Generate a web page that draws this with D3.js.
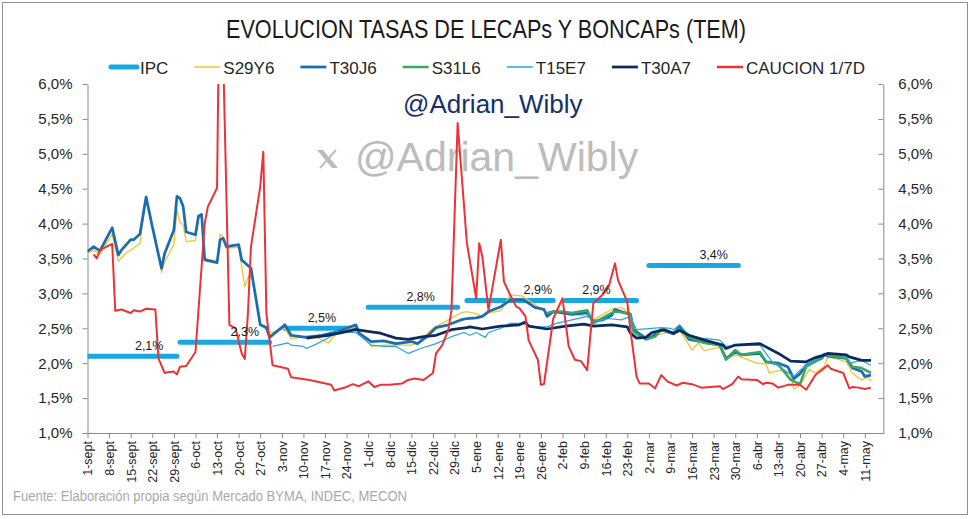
<!DOCTYPE html>
<html><head><meta charset="utf-8">
<script src="https://cdn.jsdelivr.net/npm/d3@7"></script>
<style>body{margin:0;background:#fff}</style>
</head><body><svg id="c" width="971" height="519"></svg>
<script>
const chartTitle = "EVOLUCION TASAS DE LECAPs Y BONCAPs (TEM)";
const footerText = "Fuente: Elaboración propia según Mercado BYMA, INDEC, MECON";
const handle = "@Adrian_Wibly";
const monthLabels = ["ene","feb","mar","abr","may","jun","jul","ago","sept","oct","nov","dic"];
const yTicks = [1,1.5,2,2.5,3,3.5,4,4.5,5,5.5,6];
const seriesNames = ["IPC","S29Y6","T30J6","S31L6","T15E7","T30A7","CAUCION 1/7D"];

// IPC monthly segments: [start, end, value, labelled point]
const ipc = [["09-01","09-30",2.1,"09-21"],["10-01","10-30",2.3,"10-22"],["11-04","11-27",2.5,"11-16"],
  ["12-01","12-30",2.8,"12-18"],["01-02","01-30",2.9,"01-25"],["02-03","02-26",2.9,"02-13"],["03-02","03-31",3.4,"03-23"]];

const s29y6 = [["09-01",3.58],["09-03",3.62],["09-05",3.56],["09-09",3.85],["09-11",3.46],["09-13",3.56],["09-16",3.65],["09-18",3.72],["09-20",4.40],["09-22",3.95],["09-25",3.30],["09-26",3.45],["09-29",3.70],["09-30",4.20],["10-01",4.02],["10-02",3.98],["10-03",3.74],["10-06",3.76],["10-07",4.08],["10-08",4.10],["10-09",3.50],["10-13",3.46],["10-14",3.85],["10-15",3.80],["10-16",3.65],["10-20",3.66],["10-22",3.10],["10-24",3.33],["10-27",2.55],["10-29",2.48],["10-30",2.43],["11-04",2.50],["11-06",2.35],["11-10",2.38],["11-13",2.40],["11-18",2.29],["11-21",2.44],["11-27",2.52],["12-02",2.24],["12-06",2.26],["12-10",2.26],["12-15",2.26],["12-17",2.29],["12-22",2.50],["12-27",2.62],["12-31",2.72],["01-02",2.74],["01-05",2.71],["01-07",2.67],["01-09",2.72],["01-13",2.75],["01-16",2.98],["01-20",2.96],["01-24",2.84],["01-28",2.72],["01-30",2.73],["02-05",2.71],["02-10",2.67],["02-12",2.62],["02-15",2.70],["02-18",2.77],["02-21",2.80],["02-24",2.72],["02-26",2.40],["03-01",2.36],["03-04",2.40],["03-09",2.45],["03-12",2.47],["03-16",2.19],["03-18",2.29],["03-20",2.18],["03-25",2.23],["03-27",2.05],["03-30",2.12],["04-06",2.00],["04-09",1.99],["04-10",1.86],["04-14",1.90],["04-17",1.84],["04-18",1.63],["04-20",1.68],["04-23",1.91],["04-25",1.86],["04-28",1.96],["04-29",2.10],["05-05",2.02],["05-07",1.86],["05-10",1.76],["05-12",1.80],["05-13",1.74]];

const t30j6 = [["09-01",3.60],["09-03",3.67],["09-05",3.61],["09-09",3.94],["09-11",3.55],["09-12",3.62],["09-15",3.77],["09-16",3.77],["09-18",3.85],["09-20",4.38],["09-22",3.96],["09-25",3.36],["09-26",3.57],["09-29",3.91],["09-30",4.39],["10-01",4.36],["10-02",4.25],["10-03",3.88],["10-06",3.84],["10-07",4.11],["10-08",4.13],["10-09",3.48],["10-13",3.44],["10-14",3.77],["10-15",3.79],["10-16",3.67],["10-20",3.70],["10-21",3.48],["10-24",3.36],["10-27",2.55],["10-29",2.51],["10-30",2.37],["11-04",2.55],["11-06",2.40],["11-11",2.37],["11-16",2.40],["11-21",2.45],["11-27",2.55],["11-28",2.43],["12-02",2.31],["12-06",2.32],["12-10",2.28],["12-15",2.31],["12-17",2.28],["12-20",2.38],["12-23",2.51],["12-27",2.55],["12-31",2.62],["01-02",2.64],["01-05",2.65],["01-07",2.67],["01-09",2.74],["01-13",2.81],["01-16",2.90],["01-20",2.91],["01-22",2.86],["01-24",2.80],["01-27",2.77],["01-28",2.67],["01-30",2.74],["02-02",2.72],["02-05",2.70],["02-10",2.72],["02-12",2.60],["02-15",2.62],["02-18",2.69],["02-19",2.77],["02-21",2.74],["02-24",2.70],["02-25",2.48],["03-01",2.36],["03-03",2.38],["03-06",2.48],["03-10",2.42],["03-12",2.53],["03-15",2.34],["03-20",2.30],["03-25",2.26],["03-27",2.07],["03-30",2.16],["04-01",2.12],["04-07",2.14],["04-09",2.02],["04-13",2.00],["04-16",1.95],["04-18",1.78],["04-20",1.85],["04-22",1.97],["04-27",2.07],["04-28",2.13],["04-29",2.10],["05-05",2.07],["05-07",1.93],["05-10",1.88],["05-11",1.81],["05-13",1.83]];

const s31l6 = [["01-28",2.72],["01-30",2.74],["02-02",2.74],["02-05",2.72],["02-10",2.76],["02-12",2.57],["02-15",2.65],["02-18",2.72],["02-19",2.74],["02-21",2.73],["02-24",2.70],["02-25",2.45],["03-01",2.34],["03-04",2.38],["03-06",2.48],["03-10",2.43],["03-12",2.48],["03-15",2.37],["03-20",2.29],["03-25",2.26],["03-27",2.05],["03-30",2.19],["04-01",2.12],["04-07",2.16],["04-09",2.02],["04-13",1.98],["04-17",1.76],["04-20",1.70],["04-22",1.95],["04-26",2.05],["04-28",2.12],["05-05",2.07],["05-07",1.95],["05-10",1.93],["05-13",1.86]];

const t15e7 = [["10-31",2.24],["11-05",2.29],["11-06",2.26],["11-10",2.24],["11-11",2.21],["11-14",2.27],["11-18",2.36],["11-21",2.45],["11-27",2.44],["12-02",2.26],["12-06",2.24],["12-10",2.24],["12-14",2.14],["12-18",2.21],["12-23",2.28],["12-28",2.38],["01-01",2.44],["01-03",2.40],["01-05",2.44],["01-08",2.37],["01-09",2.44],["01-13",2.50],["01-16",2.57],["01-20",2.57],["01-24",2.52],["01-28",2.52],["01-31",2.57],["02-05",2.62],["02-10",2.67],["02-13",2.60],["02-17",2.64],["02-21",2.62],["02-24",2.67],["02-26",2.48],["03-03",2.50],["03-06",2.51],["03-09",2.50],["03-10",2.48],["03-12",2.55],["03-15",2.40],["03-19",2.36],["03-25",2.33],["03-27",2.24],["03-30",2.25],["04-07",2.26],["04-11",2.02],["04-18",1.81],["04-20",1.90],["04-23",2.00],["04-27",2.10],["04-28",2.14],["05-05",2.10],["05-06",2.00],["05-10",2.04],["05-13",1.97]];

const t30a7 = [["11-11",2.36],["11-18",2.40],["11-27",2.48],["12-02",2.45],["12-05",2.43],["12-10",2.36],["12-14",2.34],["12-19",2.38],["12-23",2.40],["12-28",2.48],["01-02",2.51],["01-03",2.52],["01-07",2.49],["01-13",2.53],["01-19",2.55],["01-21",2.59],["01-22",2.53],["01-28",2.49],["02-03",2.53],["02-09",2.56],["02-12",2.53],["02-18",2.55],["02-23",2.52],["02-24",2.43],["02-26",2.36],["03-01",2.37],["03-03",2.44],["03-07",2.48],["03-10",2.43],["03-12",2.47],["03-15",2.40],["03-20",2.33],["03-26",2.26],["03-27",2.21],["03-30",2.26],["04-07",2.28],["04-13",2.14],["04-17",2.03],["04-22",2.02],["04-25",2.08],["04-28",2.12],["04-29",2.14],["05-05",2.12],["05-06",2.09],["05-10",2.04],["05-13",2.04]];

const caucion = [["09-03",3.56],["09-04",3.50],["09-05",3.62],["09-09",3.71],["09-10",2.75],["09-12",2.77],["09-15",2.72],["09-16",2.76],["09-18",2.74],["09-20",2.78],["09-23",2.77],["09-24",2.07],["09-26",1.86],["09-27",1.87],["09-29",1.88],["09-30",1.84],["10-01",1.95],["10-03",1.96],["10-06",2.16],["10-09",4.00],["10-10",4.24],["10-13",4.51],["10-14",8.30],["10-17",2.55],["10-19",2.50],["10-21",2.14],["10-22",2.06],["10-23",2.71],["10-24",3.67],["10-27",4.53],["10-28",5.03],["10-29",2.71],["10-31",1.97],["11-04",1.93],["11-05",1.92],["11-06",1.80],["11-12",1.76],["11-19",1.69],["11-20",1.61],["11-24",1.66],["11-26",1.70],["11-28",1.67],["12-01",1.74],["12-03",1.66],["12-05",1.69],["12-08",1.69],["12-12",1.71],["12-14",1.76],["12-16",1.78],["12-19",1.76],["12-22",1.86],["12-23",2.14],["12-25",2.26],["12-27",2.48],["12-28",2.76],["12-30",5.44],["01-02",3.72],["01-05",2.93],["01-06",3.72],["01-07",3.53],["01-09",2.76],["01-13",3.77],["01-14",3.17],["01-16",2.98],["01-18",2.81],["01-19",2.79],["01-21",2.67],["01-22",2.33],["01-25",2.05],["01-26",1.69],["01-27",1.70],["01-30",2.64],["02-02",2.93],["02-04",2.24],["02-06",2.05],["02-08",2.03],["02-10",1.90],["02-12",2.86],["02-15",2.98],["02-17",3.10],["02-19",3.43],["02-20",3.19],["02-23",2.88],["02-24",2.48],["02-26",1.81],["02-27",1.71],["03-02",1.71],["03-04",1.64],["03-06",1.83],["03-08",1.74],["03-11",1.68],["03-13",1.72],["03-16",1.70],["03-19",1.65],["03-25",1.67],["03-26",1.63],["03-29",1.70],["03-31",1.81],["04-01",1.77],["04-06",1.76],["04-08",1.70],["04-09",1.72],["04-11",1.71],["04-13",1.65],["04-16",1.69],["04-20",1.69],["04-22",1.62],["04-25",1.83],["04-29",1.97],["04-30",1.92],["05-04",1.86],["05-06",1.64],["05-07",1.66],["05-09",1.65],["05-11",1.63],["05-13",1.65]];

// ---------- drawing ----------
const parse = s => { const [m,d] = s.split("-").map(Number); return new Date(m >= 9 ? 2024 : 2025, m-1, d); };
const pts = arr => arr.map(([d,v]) => ({date: parse(d), value: v}));

const W = 971, H = 519;
const plot = {left: 87.5, right: 883.3, top: 84, bottom: 433};
const svg = d3.select("#c");
const SANS = "'Liberation Sans',Arial,sans-serif";

svg.append("rect").attr("x",0).attr("y",0).attr("width",W).attr("height",H).attr("fill","#fff");
svg.append("rect").attr("x",2.5).attr("y",2.5).attr("width",965).attr("height",512)
  .attr("fill","none").attr("stroke","#8e8e8e").attr("stroke-width",1);

const x = d3.scaleTime().domain([new Date(2024,8,1), new Date(2025,4,17)]).range([plot.left, plot.right]);
const y = d3.scaleLinear().domain([1,6]).range([plot.bottom, plot.top]);

// title (condensed like the original's Calibri)
svg.append("text").attr("x",226).attr("y",38)
  .attr("font-family",SANS).attr("font-size",26).attr("fill","#1a1a1a")
  .attr("textLength",520).attr("lengthAdjust","spacingAndGlyphs").text(chartTitle);

// watermark (gray)
const wm = svg.append("g").attr("fill","#bcbcbc");
wm.append("text").attr("x",355).attr("y",171).attr("font-family",SANS).attr("font-size",41).text(handle);
const xl = svg.append("g").attr("transform","translate(317,150)");
xl.append("path").attr("d","M0,0 L6,0 L21,18 L15,18 Z").attr("fill","#bcbcbc");
xl.append("path").attr("d","M19,0 L3,18").attr("stroke","#bcbcbc").attr("stroke-width",2);

// axes
const fmtPct = v => d3.format(".1f")(v).replace(".", ",") + "%";
const axisColor = "#8a8a8a";
const yl = svg.append("g").attr("transform",`translate(${plot.left},0)`)
  .call(d3.axisLeft(y).tickValues(yTicks).tickFormat(fmtPct).tickSize(5).tickPadding(10).tickSizeOuter(0));
const yr = svg.append("g").attr("transform",`translate(${plot.right},0)`)
  .call(d3.axisRight(y).tickValues(yTicks).tickFormat(fmtPct).tickSize(-5).tickPadding(15).tickSizeOuter(0));
const xTicks = d3.timeWeek.range(new Date(2024,8,1), new Date(2025,4,14));
const xa = svg.append("g").attr("transform",`translate(0,${plot.bottom})`)
  .call(d3.axisBottom(x).tickValues(xTicks).tickFormat(d => d.getDate() + "-" + monthLabels[d.getMonth()]).tickSize(5).tickSizeOuter(0));
xa.selectAll("text").attr("transform","rotate(-90)").attr("text-anchor","end")
  .attr("x",-8).attr("y",0).attr("dy","0.35em");
[yl,yr,xa].forEach(g => {
  g.select(".domain").attr("stroke",axisColor);
  g.selectAll(".tick line").attr("stroke",axisColor);
  g.selectAll("text").attr("fill","#262626").attr("font-family",SANS);
});
yl.selectAll("text").attr("font-size",15);
yr.selectAll("text").attr("font-size",15);
xa.selectAll("text").attr("font-size",12.5);

// clip
svg.append("clipPath").attr("id","clip").append("rect")
  .attr("x",plot.left).attr("y",plot.top).attr("width",plot.right-plot.left).attr("height",plot.bottom-plot.top);
const g = svg.append("g").attr("clip-path","url(#clip)");

const colors = {IPC:"#1aa7e0", S29Y6:"#f6c233", T30J6:"#1c6cb1", S31L6:"#37a862", T15E7:"#2aa4de", T30A7:"#0c2a5c", CAU:"#ec3236"};
const line = d3.line().x(d => x(d.date)).y(d => y(d.value));

// IPC segments
ipc.forEach(([a,b,v,l]) => {
  g.append("line").attr("x1",x(parse(a))).attr("x2",x(parse(b))).attr("y1",y(v)).attr("y2",y(v))
    .attr("stroke",colors.IPC).attr("stroke-width",5).attr("stroke-linecap","round");
  svg.append("text").attr("x",x(parse(l))).attr("y",y(v)-6).attr("text-anchor","middle")
    .attr("font-family",SANS).attr("font-size",12.5).attr("fill","#1a1a1a").text(fmtPct(v));
});

const series = [
  {data: s29y6, color: colors.S29Y6, w: 1.3},
  {data: t30j6, color: colors.T30J6, w: 2.75},
  {data: s31l6, color: colors.S31L6, w: 2.5},
  {data: t15e7, color: colors.T15E7, w: 1.2},
  {data: t30a7, color: colors.T30A7, w: 2.75},
  {data: caucion, color: colors.CAU, w: 2}
];
series.forEach(s => {
  g.append("path").datum(pts(s.data)).attr("d",line).attr("fill","none")
    .attr("stroke",s.color).attr("stroke-width",s.w).attr("stroke-linejoin","round");
});

// navy handle
svg.append("text").attr("x",403).attr("y",113).attr("font-family",SANS).attr("font-size",26)
  .attr("fill","#14306b").text(handle);

// legend
const legItems = [
  {name: seriesNames[0], color: colors.IPC, w: 5},
  {name: seriesNames[1], color: colors.S29Y6, w: 1.5},
  {name: seriesNames[2], color: colors.T30J6, w: 2.75},
  {name: seriesNames[3], color: colors.S31L6, w: 2.5},
  {name: seriesNames[4], color: colors.T15E7, w: 1.5},
  {name: seriesNames[5], color: colors.T30A7, w: 2.75},
  {name: seriesNames[6], color: colors.CAU, w: 2.5}
];
const leg = svg.append("g");
let lx = 0;
legItems.forEach(it => {
  const gi = leg.append("g").attr("transform",`translate(${lx},0)`);
  gi.append("line").attr("x1",0).attr("x2",26).attr("y1",67).attr("y2",67).attr("stroke",it.color).attr("stroke-width",it.w)
    .attr("stroke-linecap", it.w > 4 ? "round" : "butt");
  const t = gi.append("text").attr("x",29).attr("y",74).attr("font-family",SANS).attr("font-size",17).attr("fill","#262626").text(it.name);
  lx += 29 + t.node().getComputedTextLength() + 26;
});
lx -= 26;
leg.attr("transform",`translate(${488 - lx/2},0)`);

// footer
svg.append("text").attr("x",13).attr("y",501).attr("font-family",SANS).attr("font-size",14)
  .attr("fill","#a9a9a9").attr("textLength",394).attr("lengthAdjust","spacingAndGlyphs").text(footerText);
</script></body></html>
